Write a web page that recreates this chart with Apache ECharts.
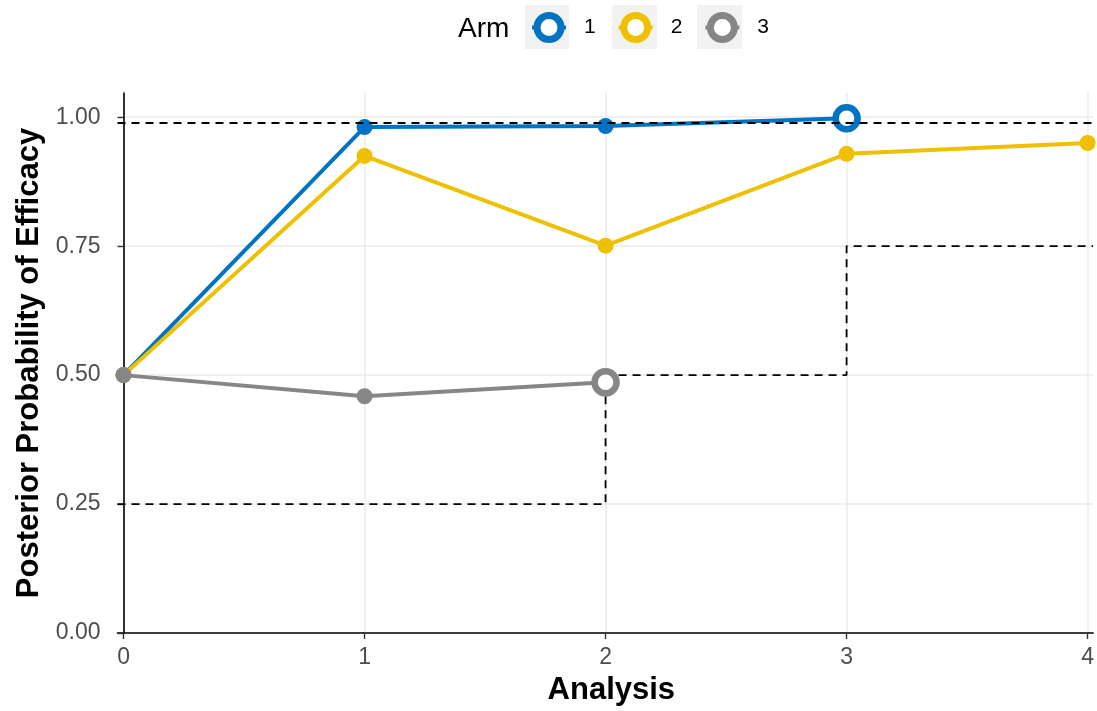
<!DOCTYPE html>
<html>
<head>
<meta charset="utf-8">
<script src="https://cdn.jsdelivr.net/npm/echarts@6/dist/echarts.min.js"></script>
<style>
  html, body { margin: 0; padding: 0; background: #fff; }
  #main { width: 1097px; height: 711px; }
</style>
</head>
<body>
<div id="main"></div>
<script>
// data
var analysis = [0, 1, 2, 3, 4];
var yTicks = [0, 0.25, 0.5, 0.75, 1];
var armNames = ['1', '2', '3'];
var arm1 = [0.5, 0.981, 0.983, 0.998];
var arm2 = [0.5, 0.925, 0.751, 0.929, 0.950];
var arm3 = [0.5, 0.459, 0.486];
var upperBound = 0.99;          // efficacy threshold
var lowerX = [0, 2, 3, 4];      // futility step boundaries
var lowerY = [0.25, 0.5, 0.75, 0.75];

var colors = ['#0073C2', '#EFC000', '#868686'];
var xMin = -0.025, xMax = 4.023;   // little padding as in the ggplot panel

// arm values -> [x, y] pairs, last point of an arm that stopped drawn as open circle
function armData(vals, stopped, c) {
  var out = [];
  for (var i = 0; i < vals.length; i++) {
    var p = { value: [analysis[i], vals[i]] };
    if (stopped && i == vals.length - 1) {
      p.symbolSize = 22;
      p.itemStyle = { color: '#fff', borderColor: c, borderWidth: 6.5 };
    }
    out.push(p);
  }
  return out;
}

var lowerData = [];
for (var i = 0; i < lowerX.length; i++) {
  var x = lowerX[i];
  if (i == 0) x = xMin;
  if (i == lowerX.length - 1) x = xMax;
  lowerData.push([x, lowerY[i]]);
}

var arms = [arm1, arm2, arm3];
var stopped = [true, false, true];
var series = [];

//阈值虚线
series.push({
  name: 'bound', type: 'line', step: 'end', data: lowerData,
  symbol: 'none', silent: true, z: 1,
  lineStyle: { color: '#000', width: 1.8, type: [8, 6] },
  markLine: {
    silent: true, symbol: 'none', label: { show: false },
    lineStyle: { color: '#000', width: 1.8, type: [8, 6] },
    data: [{ yAxis: upperBound }]
  }
});

for (var k = 0; k < arms.length; k++) {
  series.push({
    name: armNames[k], type: 'line', z: 3 + k,
    data: armData(arms[k], stopped[k], colors[k]),
    symbol: 'circle', symbolSize: 16,
    itemStyle: { color: colors[k] },
    lineStyle: { color: colors[k], width: 4 }
  });
}

var legendData = [];
for (var k = 0; k < armNames.length; k++) {
  legendData.push({
    name: armNames[k],
    itemStyle: { color: '#fff', borderColor: colors[k], borderWidth: 7 },
    lineStyle: { color: colors[k], width: 4 }
  });
}

var option = {
  animation: false,
  backgroundColor: '#fff',
  textStyle: { fontFamily: 'Liberation Sans, Arial, sans-serif' },
  title: {
    text: 'Arm', left: 453, top: 10,
    textStyle: { fontSize: 28, fontWeight: 'normal', color: '#000', fontFamily: 'Liberation Sans' }
  },
  graphic: [
    { type: 'rect', shape: { x: 525, y: 5, width: 44, height: 44 }, style: { fill: '#F2F2F2' }, z: 0 },
    { type: 'rect', shape: { x: 612, y: 5, width: 45, height: 44 }, style: { fill: '#F2F2F2' }, z: 0 },
    { type: 'rect', shape: { x: 697, y: 5, width: 45, height: 44 }, style: { fill: '#F2F2F2' }, z: 0 }
  ],
  legend: {
    data: legendData,
    left: 525, top: 7,
    itemWidth: 34, itemHeight: 30, itemGap: 21,
    textStyle: { fontSize: 21, color: '#000', padding: [0, 0, 0, 13], fontFamily: 'Liberation Sans' }
  },
  grid: { left: 117.5, right: 0, top: 93, bottom: 75.5, containLabel: false },
  xAxis: {
    type: 'value', min: xMin, max: xMax,
    name: 'Analysis', nameLocation: 'middle', nameGap: 42,
    nameTextStyle: { fontSize: 31, fontWeight: 'bold', color: '#000', padding: [0, 0, 0, 12] },
    axisLine: { show: true, onZero: false, lineStyle: { color: '#000', width: 1.6 } },
    axisTick: { show: true, length: 6, customValues: analysis, lineStyle: { color: '#333', width: 1.4 } },
    axisLabel: { customValues: analysis, fontSize: 23, color: '#4D4D4D', margin: 13 },
    splitLine: { show: true, lineStyle: { color: '#EBEBEB', width: 1.5 } }
  },
  yAxis: {
    type: 'value', min: 0, max: 1.047,
    name: 'Posterior Probability of Efficacy', nameLocation: 'middle', nameGap: 68,
    nameTextStyle: { fontSize: 31, fontWeight: 'bold', color: '#000' },
    axisLine: { show: true, lineStyle: { color: '#000', width: 1.6 } },
    axisTick: { show: true, length: 6, customValues: yTicks, lineStyle: { color: '#333', width: 1.4 } },
    axisLabel: {
      customValues: yTicks, fontSize: 23, color: '#4D4D4D', margin: 17,
      formatter: function (v) { return v.toFixed(2); }
    },
    splitLine: { show: true, lineStyle: { color: '#EBEBEB', width: 1.5 } }
  },
  series: series
};

echarts.init(document.getElementById('main')).setOption(option);
</script>
</body>
</html>
